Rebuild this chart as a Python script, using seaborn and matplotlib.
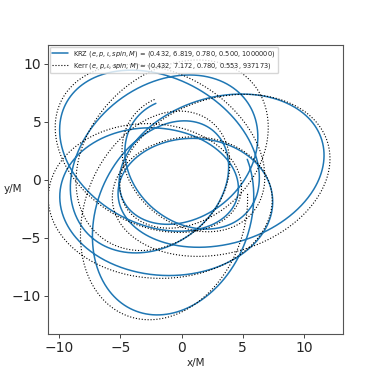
import numpy as np
import pandas as pd
import matplotlib
matplotlib.use("Agg")
import matplotlib.pyplot as plt
import seaborn as sns

# orbit parameters, as printed in the legend
models = ["KRZ", "Kerr"]
ecc = [0.432, 0.432]
semilatus = [6.819, 7.172]
incl = [0.780, 0.780]
spin = [0.500, 0.553]
mass = [1000000, 937173]

# precession / phase settings
peri_advance = [0.280, 0.266]    # extra in-plane turn per orbit (fraction of 2pi)
node_advance = [0.070, 0.072]    # nodal drift per radian of anomaly
start_latitude = np.radians(150.0)
start_anomaly = np.radians(260.0)
node_start = np.radians(310.0)
n_orbits = 5.0


def orbit_xy(p, e, inc, k, q):
    t = np.linspace(0, 2 * np.pi * n_orbits, 4000)
    r = p / (1 + e * np.cos(start_anomaly + t))
    psi = start_latitude + (1 + k) * t
    om = node_start + q * t
    x = r * (np.cos(om) * np.cos(psi) - np.sin(om) * np.sin(psi) * np.cos(inc))
    y = r * (np.sin(om) * np.cos(psi) + np.cos(om) * np.sin(psi) * np.cos(inc))
    return x, y


frames = []
for i, name in enumerate(models):
    x, y = orbit_xy(semilatus[i], ecc[i], incl[i], peri_advance[i], node_advance[i])
    label = (f"{name} $(e, p, \\iota, spin, M)$ = "
             f"({ecc[i]:.3f}, {semilatus[i]:.3f}, {incl[i]:.3f}, {spin[i]:.3f}, {mass[i]})")
    frames.append(pd.DataFrame({"x": x, "y": y, "label": label}))

sns.set_style("ticks")
plt.rcParams['font.family'] = 'DejaVu Sans'

fig, ax = plt.subplots(figsize=(3.82, 3.82), dpi=100)
fig.subplots_adjust(left=0.126, right=0.898, bottom=0.126, top=0.882)

sns.lineplot(data=frames[0], x="x", y="y", sort=False, estimator=None,
             color="#1f77b4", lw=1.1, label=frames[0]["label"][0], ax=ax)
sns.lineplot(data=frames[1], x="x", y="y", sort=False, estimator=None,
             color="black", lw=0.8, linestyle=":", label=frames[1]["label"][0], ax=ax)

ax.set_xlim(-10.9, 13.2)
ax.set_ylim(-13.3, 11.6)
ax.set_xticks([-10, -5, 0, 5, 10])
ax.set_yticks([-10, -5, 0, 5, 10])
ax.tick_params(labelsize=10, length=3, width=0.6, pad=2)
for s in ax.spines.values():
    s.set_linewidth(0.8)
    s.set_color("#555555")
ax.set_xlabel("x/M", fontsize=7.5, labelpad=2)
ax.set_ylabel("y/M", fontsize=7.5, rotation=0, va="center", ha="center")
ax.yaxis.set_label_coords(-0.12, 0.5)
ax.legend(loc="upper left", fontsize=4.8, framealpha=0.8, handlelength=2.4,
          borderaxespad=0.25, borderpad=0.35, labelspacing=0.25)

plt.savefig("out.png", dpi=100)
